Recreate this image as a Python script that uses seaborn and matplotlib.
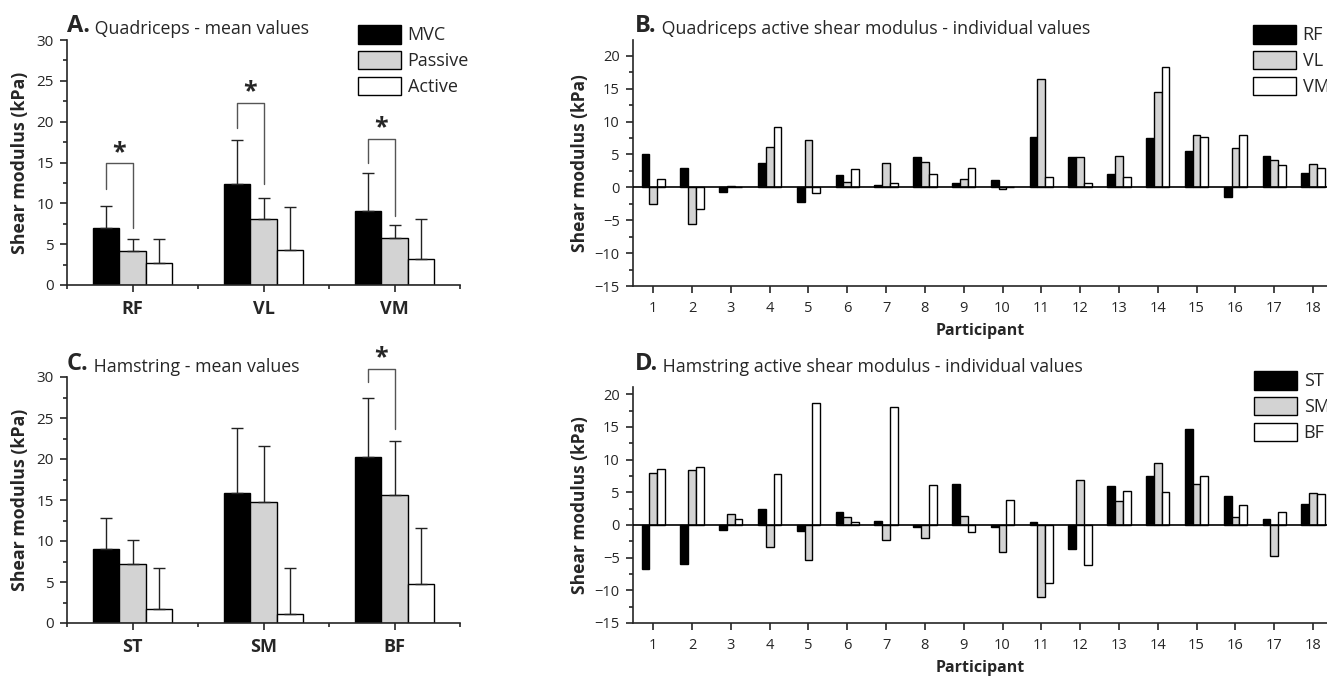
import numpy as np
import pandas as pd
import seaborn as sns
import matplotlib.pyplot as plt
from matplotlib.ticker import MultipleLocator, FixedLocator

# mean values (kPa) and upper SD
quad_muscles = ['RF', 'VL', 'VM']
ham_muscles = ['ST', 'SM', 'BF']
conditions = ['MVC', 'Passive', 'Active']

quad_mvc = [7.0, 12.4, 9.1]
quad_passive = [4.2, 8.1, 5.8]
quad_active = [2.7, 4.3, 3.2]
quad_mvc_sd = [2.7, 5.4, 4.6]
quad_passive_sd = [1.4, 2.6, 1.5]
quad_active_sd = [2.9, 5.3, 4.9]

ham_mvc = [9.0, 15.9, 20.3]
ham_passive = [7.2, 14.8, 15.6]
ham_active = [1.7, 1.1, 4.7]
ham_mvc_sd = [3.8, 7.9, 7.2]
ham_passive_sd = [2.9, 6.8, 6.6]
ham_active_sd = [5.0, 5.6, 6.9]

# significance brackets (MVC vs Passive): group, bracket level, left leg end, right leg end
quad_sig_group = [0, 1, 2]
quad_sig_top = [14.9, 22.3, 17.9]
quad_sig_left = [11.8, 19.2, 14.9]
quad_sig_right = [7.0, 12.4, 8.4]
ham_sig_group = [2]
ham_sig_top = [31.0]
ham_sig_left = [29.4]
ham_sig_right = [23.6]

# individual active shear modulus
participants = list(range(1, 19))
quad_rf = [5.0, 2.9, -0.7, 3.65, -2.3, 1.9, 0.35, 4.6, 0.7, 1.1, 7.7, 4.6, 2.0, 7.5, 5.6, -1.4, 4.8, 2.2]
quad_vl = [-2.6, -5.6, 0.25, 6.2, 7.2, 0.8, 3.65, 3.9, 1.3, -0.25, 16.4, 4.6, 4.8, 14.5, 7.9, 6.0, 4.2, 3.6]
quad_vm = [1.3, -3.3, 0.0, 9.1, -0.9, 2.8, 0.6, 2.1, 3.0, 0.0, 1.6, 0.7, 1.6, 18.3, 7.6, 7.9, 3.35, 3.0]
ham_st = [-6.7, -6.0, -0.7, 2.5, -0.9, 2.0, 0.6, -0.25, 6.3, -0.35, 0.45, -3.7, 6.0, 7.5, 14.7, 4.5, 0.97, 3.25]
ham_sm = [7.9, 8.35, 1.7, -3.4, -5.3, 1.2, -2.3, -2.0, 1.3, -4.1, -11.0, 6.9, 3.6, 9.5, 6.25, 1.2, -4.8, 4.9]
ham_bf = [8.5, 8.9, 0.9, 7.8, 18.7, 0.45, 18.0, 6.05, -1.07, 3.75, -8.85, -6.2, 5.2, 5.0, 7.5, 3.05, 2.0, 4.75]

colors = ['black', '#d3d3d3', 'white']

sns.set_style('ticks')
plt.rcParams['font.family'] = ['Open Sans', 'DejaVu Sans']
plt.rcParams['axes.linewidth'] = 1.2

W, H = 1327, 676
fig = plt.figure(figsize=(W / 100, H / 100), dpi=100)


def px_axes(left, top, right, bottom):
    return fig.add_axes([left / W, 1 - bottom / H, (right - left) / W, (bottom - top) / H])


def panel_title(ax, letter, text, x, y):
    t = fig.text(x / W, 1 - y / H, letter, fontsize=17, fontweight='bold', va='baseline')
    ax.annotate(' ' + text, xy=(1, 0), xycoords=t, va='bottom', fontsize=12.8,
                annotation_clip=False)


def style_axes(ax):
    sns.despine(ax=ax)
    ax.tick_params(axis='both', which='major', direction='out', length=5, width=1.2,
                   labelsize=11, pad=4.5)
    ax.tick_params(axis='both', which='minor', direction='out', length=3, width=1.2)


def mean_panel(ax, muscles, vals, sds, sig, ylabel_pad):
    df = pd.DataFrame({
        'muscle': muscles * 3,
        'cond': [c for c in conditions for _ in muscles],
        'value': vals[0] + vals[1] + vals[2],
    })
    sns.barplot(data=df, x='muscle', y='value', hue='cond', hue_order=conditions,
                palette=colors, edgecolor='black', linewidth=1, width=0.6,
                errorbar=None, legend=True, ax=ax)
    for cont, sd in zip(ax.containers, sds):
        xs = [b.get_x() + b.get_width() / 2 for b in cont]
        ys = [b.get_height() for b in cont]
        ax.errorbar(xs, ys, yerr=[np.zeros(len(sd)), sd], fmt='none', ecolor='#222',
                    elinewidth=1, capsize=4.5, capthick=1)
    groups, tops, lefts, rights = sig
    mvc_bars = ax.containers[0]
    pas_bars = ax.containers[1]
    for g, t, l, r in zip(groups, tops, lefts, rights):
        x0 = mvc_bars[g].get_x() + mvc_bars[g].get_width() / 2
        x1 = pas_bars[g].get_x() + pas_bars[g].get_width() / 2
        ax.plot([x0, x0, x1, x1], [l, t, t, r], color='#555', lw=1, clip_on=False)
        ax.annotate('*', xy=((x0 + x1) / 2, t), xytext=(0, -1), textcoords='offset points',
                    ha='center', va='bottom', fontsize=18, fontweight='bold',
                    annotation_clip=False)
    ax.set_ylim(0, 30)
    ax.set_xlim(-0.5, 2.5)
    ax.yaxis.set_major_locator(MultipleLocator(5))
    ax.yaxis.set_minor_locator(MultipleLocator(2.5))
    ax.xaxis.set_minor_locator(FixedLocator([-0.5, 0.5, 1.5, 2.5]))
    style_axes(ax)
    ax.tick_params(axis='x', which='major', pad=6)
    ax.set_xlabel('')
    ax.set_ylabel('Shear modulus (kPa)', fontsize=12.8, fontweight='bold', labelpad=ylabel_pad)
    for lab in ax.get_xticklabels():
        lab.set_fontweight('bold')
        lab.set_fontsize(13)


def indiv_panel(ax, names, series, ytop):
    df = pd.DataFrame({
        'p': [str(p) for p in participants] * 3,
        'muscle': [n for n in names for _ in participants],
        'value': series[0] + series[1] + series[2],
    })
    sns.barplot(data=df, x='p', y='value', hue='muscle', hue_order=names,
                palette=colors, edgecolor='black', linewidth=1, width=0.6,
                errorbar=None, legend=True, ax=ax)
    ax.axhline(0, color='black', lw=1.2, zorder=3)
    ax.set_ylim(-15, ytop)
    ax.set_xlim(-0.52, 17.36)
    ax.yaxis.set_major_locator(MultipleLocator(5))
    ax.yaxis.set_minor_locator(MultipleLocator(2.5))
    style_axes(ax)
    ax.tick_params(axis='both', which='major', labelsize=10.5)
    ax.tick_params(axis='x', which='major', pad=5.5)
    ax.set_xlabel('Participant', fontsize=11.5, fontweight='bold', labelpad=5)
    ax.set_ylabel('Shear modulus (kPa)', fontsize=12.5, fontweight='bold', labelpad=4)


def put_legend(ax, x, y):
    handles, labels = ax.get_legend_handles_labels()
    ax.legend(handles, labels, loc='upper left', bbox_to_anchor=(x / W, 1 - y / H),
              bbox_transform=fig.transFigure, frameon=False, fontsize=13,
              handlelength=2.4, handleheight=1.2, labelspacing=0.36,
              handletextpad=0.35, borderpad=0, borderaxespad=0)


axA = px_axes(67, 40, 460, 285)
axB = px_axes(633, 40, W, 286)
axC = px_axes(67, 377, 460, 623)
axD = px_axes(633, 387, W, 623)

mean_panel(axA, quad_muscles, [quad_mvc, quad_passive, quad_active],
           [quad_mvc_sd, quad_passive_sd, quad_active_sd],
           (quad_sig_group, quad_sig_top, quad_sig_left, quad_sig_right), 5)
put_legend(axA, 358, 25)

mean_panel(axC, ham_muscles, [ham_mvc, ham_passive, ham_active],
           [ham_mvc_sd, ham_passive_sd, ham_active_sd],
           (ham_sig_group, ham_sig_top, ham_sig_left, ham_sig_right), 5)
axC.get_legend().remove()

indiv_panel(axB, ['RF', 'VL', 'VM'], [quad_rf, quad_vl, quad_vm], 22.4)
put_legend(axB, 1253, 25)
indiv_panel(axD, ['ST', 'SM', 'BF'], [ham_st, ham_sm, ham_bf], 21.1)
put_legend(axD, 1254, 371)

panel_title(axA, 'A.', 'Quadriceps - mean values', 67, 32)
panel_title(axB, 'B.', 'Quadriceps active shear modulus - individual values', 635, 32)
panel_title(axC, 'C.', 'Hamstring - mean values', 67, 370)
panel_title(axD, 'D.', 'Hamstring active shear modulus - individual values', 635, 370)

fig.savefig('out.png', dpi=100)
